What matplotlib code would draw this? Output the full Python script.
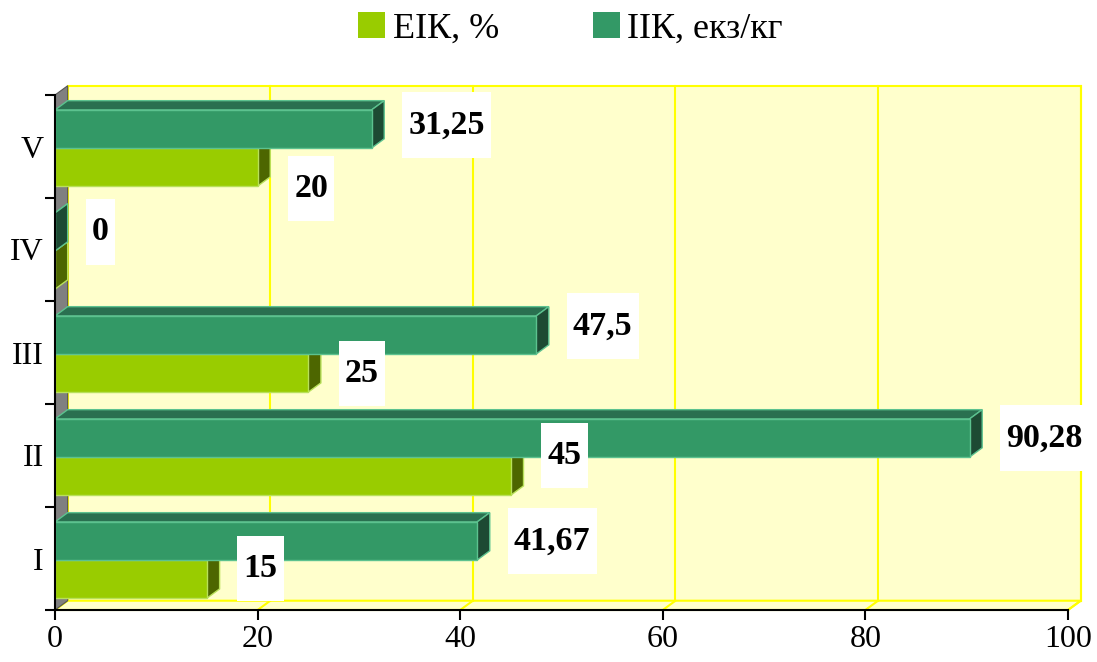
import matplotlib.pyplot as plt
from matplotlib.patches import Polygon, Patch
from matplotlib.path import Path


categories = ["I", "II", "III", "IV", "V"]
eik_values = [15, 45, 25, 0, 20]
iik_values = [41.67, 90.28, 47.5, 0, 31.25]
x_ticks = [0, 20, 40, 60, 80, 100]

# label nudges in pixels (up is positive), to follow the reference placement
eik_nudge = [11, 21, 0, 0, -21]
iik_nudge = [0, 0, 9, 0, 4]

DX = 1.25   # depth in x data units
DY = 0.09   # depth in y data units
BAR_H = 0.37
EIK_BOTTOM = 0.115
IIK_BOTTOM = 0.485

WALL = "#ffffcc"
GRID = "#ffff00"
SIDE_WALL = "#808080"

EIK_COLORS = {"front": "#99cc00", "top": "#7aa300", "side": "#4d6600", "edge": "#b8e05a"}
IIK_COLORS = {"front": "#339966", "top": "#2a7050", "side": "#1d4a33", "edge": "#5cc28f"}

plt.rcParams["font.family"] = ["Liberation Serif", "DejaVu Serif"]

fig = plt.figure(figsize=(10.97, 6.62), dpi=100)
ax = fig.add_axes([55 / 1097, 52 / 662, 1013 / 1097, 515 / 662])
ax.set_xlim(0, 100)
ax.set_ylim(0, 5)
ax.patch.set_visible(False)

n = len(categories)

# back wall
ax.add_patch(Polygon([(DX, DY), (100 + DX, DY), (100 + DX, n + DY), (DX, n + DY)],
                     closed=True, facecolor=WALL, edgecolor=GRID, linewidth=1.5,
                     clip_on=False, zorder=0))
# floor
ax.add_patch(Polygon([(0, 0), (100, 0), (100 + DX, DY), (DX, DY)],
                     closed=True, facecolor=WALL, edgecolor=GRID, linewidth=1.5,
                     clip_on=False, zorder=0))
# left side wall
ax.add_patch(Polygon([(0, 0), (DX, DY), (DX, n + DY), (0, n)],
                     closed=True, facecolor=SIDE_WALL, edgecolor="#555555", linewidth=0.8,
                     clip_on=False, zorder=0))

for t in x_ticks[1:]:
    ax.plot([t + DX, t + DX], [DY, n + DY], color=GRID, lw=1.5, zorder=1, clip_on=False)
    ax.plot([t, t + DX], [0, DY], color=GRID, lw=1.5, zorder=1, clip_on=False)


def draw_bar(x1, y0, colors):
    y1 = y0 + BAR_H
    kw = dict(closed=True, edgecolor=colors["edge"], linewidth=1.0, clip_on=False, zorder=3)
    ax.add_patch(Polygon([(0, y1), (x1, y1), (x1 + DX, y1 + DY), (DX, y1 + DY)],
                         facecolor=colors["top"], **kw))
    ax.add_patch(Polygon([(x1, y0), (x1 + DX, y0 + DY), (x1 + DX, y1 + DY), (x1, y1)],
                         facecolor=colors["side"], **kw))
    ax.add_patch(Polygon([(0, y0), (x1, y0), (x1, y1), (0, y1)],
                         facecolor=colors["front"], **kw))


def label_box(x0, y0, width, height, mutation_size):
    # wider vertical padding than horizontal, like the Excel data labels
    px = 0.18 * mutation_size
    py = 0.5 * mutation_size
    x0, x1 = x0 - px, x0 + width + px
    y0, y1 = y0 - py, y0 + height + py
    return Path([(x0, y0), (x1, y0), (x1, y1), (x0, y1), (x0, y0)], closed=True)


def fmt(v):
    return f"{v:g}".replace(".", ",")


def add_label(v, yc, nudge):
    ax.annotate(fmt(v), xy=(v + DX, yc), xytext=(24, nudge),
                textcoords="offset pixels", ha="left", va="center",
                fontsize=24.5, fontweight="bold", zorder=5, annotation_clip=False,
                bbox=dict(boxstyle=label_box, facecolor="white", edgecolor="none"))


for i in range(n):
    draw_bar(eik_values[i], i + EIK_BOTTOM, EIK_COLORS)
    draw_bar(iik_values[i], i + IIK_BOTTOM, IIK_COLORS)

for i in range(n):
    if eik_values[i] > 0:
        add_label(eik_values[i], i + EIK_BOTTOM + BAR_H / 2, eik_nudge[i])
    add_label(iik_values[i], i + IIK_BOTTOM + BAR_H / 2, iik_nudge[i])

for side in ["top", "right"]:
    ax.spines[side].set_visible(False)
for side in ["left", "bottom"]:
    ax.spines[side].set_linewidth(1.5)
    ax.spines[side].set_zorder(4)

ax.set_xticks(x_ticks)
ax.set_xticklabels([str(t) for t in x_ticks])
ax.set_yticks(range(n + 1))
ax.set_yticklabels([])
ax.set_yticks([i + 0.5 for i in range(n)], minor=True)
ax.set_yticklabels(categories, minor=True)
ax.tick_params(axis="both", which="major", direction="out", length=7, width=1.5,
               labelsize=23)
ax.tick_params(axis="y", which="minor", length=0, labelsize=23, pad=8)

handles = [
    Patch(facecolor=EIK_COLORS["front"], edgecolor="none", label="ЕІК, %"),
    Patch(facecolor=IIK_COLORS["front"], edgecolor="none", label="ІІК, екз/кг"),
]
fig.legend(handles=handles, loc="center", bbox_to_anchor=(0.52, 0.957), ncol=2,
           frameon=False, fontsize=26, handlelength=0.75, handleheight=0.75,
           handletextpad=0.2, columnspacing=2.6)

fig.savefig("out.png", dpi=100)
